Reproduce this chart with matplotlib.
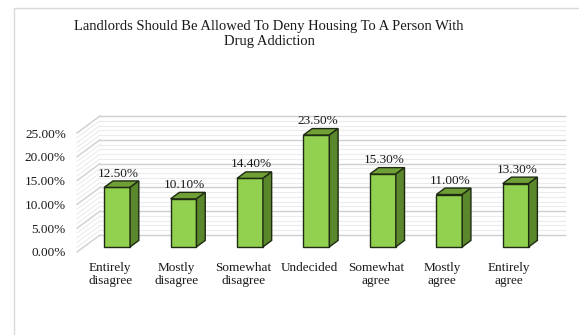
import numpy as np
import matplotlib
matplotlib.use("Agg")
import matplotlib.pyplot as plt
from matplotlib.patches import Polygon, Rectangle

categories = ["Entirely\ndisagree", "Mostly\ndisagree", "Somewhat\ndisagree", "Undecided",
              "Somewhat\nagree", "Mostly\nagree", "Entirely\nagree"]
values = [12.5, 10.1, 14.4, 23.5, 15.3, 11.0, 13.3]
yticks = [0, 5, 10, 15, 20, 25]
title = "Landlords Should Be Allowed To Deny Housing To A Person With\nDrug Addiction"

plt.rcParams['font.family'] = ['Liberation Serif', 'DejaVu Serif']

W, H = 579, 335
fig = plt.figure(figsize=(W / 100, H / 100), dpi=100)

# light frame around the chart area
fig.patches.append(Rectangle((14 / W, -0.1), 1.2, 1 - 8 / H + 0.1, transform=fig.transFigure,
                             fill=False, edgecolor="#d9d9d9", linewidth=1.0))

fig.text(269 / W, 1 - 34 / H, title, ha="center", va="center", fontsize=10.5,
         color="#1a1a1a", multialignment="center", linespacing=1.15)

# front plane of the 3d box
ax = fig.add_axes([77 / W, (H - 252) / H, (542 - 77) / W, (252 - 133) / H])
ax.set_xlim(-0.5, len(values) - 0.5)
ax.set_ylim(0, 25)
for s in ax.spines.values():
    s.set_visible(False)
ax.patch.set_visible(False)

# depth of the box in data units
DX = 23 / 66.43
DY = 17 / 4.76
f_front, f_back = 0.30, 0.68
bw = 0.39

xl, xr = -0.5, len(values) - 0.5

# back wall and side wall lines
for t in range(0, 26):
    major = t % 5 == 0
    col = "#cfcfcf" if major else "#ececec"
    lw = 1.0 if major else 0.8
    ax.plot([xl + DX, xr + DX], [t + DY, t + DY], color=col, lw=lw, clip_on=False, zorder=1)
    ax.plot([xl, xl + DX], [t, t + DY], color=col, lw=lw, clip_on=False, zorder=1)

front = "#92d050"
top = "#6f9f35"
side = "#5a872b"
edge = "#1e2b12"

for i, v in enumerate(values):
    x0 = i - bw / 2
    x1 = i + bw / 2
    ax.bar(i + f_front * DX, v, width=bw, bottom=f_front * DY, color=front,
           edgecolor=edge, linewidth=1.0, zorder=3, clip_on=False)
    top_pts = [(x0 + f_front * DX, v + f_front * DY), (x1 + f_front * DX, v + f_front * DY),
               (x1 + f_back * DX, v + f_back * DY), (x0 + f_back * DX, v + f_back * DY)]
    side_pts = [(x1 + f_front * DX, f_front * DY), (x1 + f_front * DX, v + f_front * DY),
                (x1 + f_back * DX, v + f_back * DY), (x1 + f_back * DX, f_back * DY)]
    ax.add_patch(Polygon(top_pts, closed=True, facecolor=top, edgecolor=edge,
                         linewidth=1.0, zorder=3, clip_on=False))
    ax.add_patch(Polygon(side_pts, closed=True, facecolor=side, edgecolor=edge,
                         linewidth=1.0, zorder=3, clip_on=False))
    ax.text(i + f_front * DX + 0.02, v + f_back * DY + 0.3, f"{v:.2f}%",
            ha="center", va="bottom", fontsize=9.5, color="#1a1a1a", zorder=4)

ax.set_yticks(yticks)
ax.set_yticklabels([f"{t:.2f}%" for t in yticks], fontsize=9.5, color="#1a1a1a")
ax.set_xticks(range(len(categories)))
ax.set_xticklabels(categories, fontsize=9.5, color="#1a1a1a", linespacing=1.15)
ax.tick_params(axis="y", length=0, pad=8)
ax.tick_params(axis="x", length=0, pad=7)

fig.savefig("out.png", dpi=100)
